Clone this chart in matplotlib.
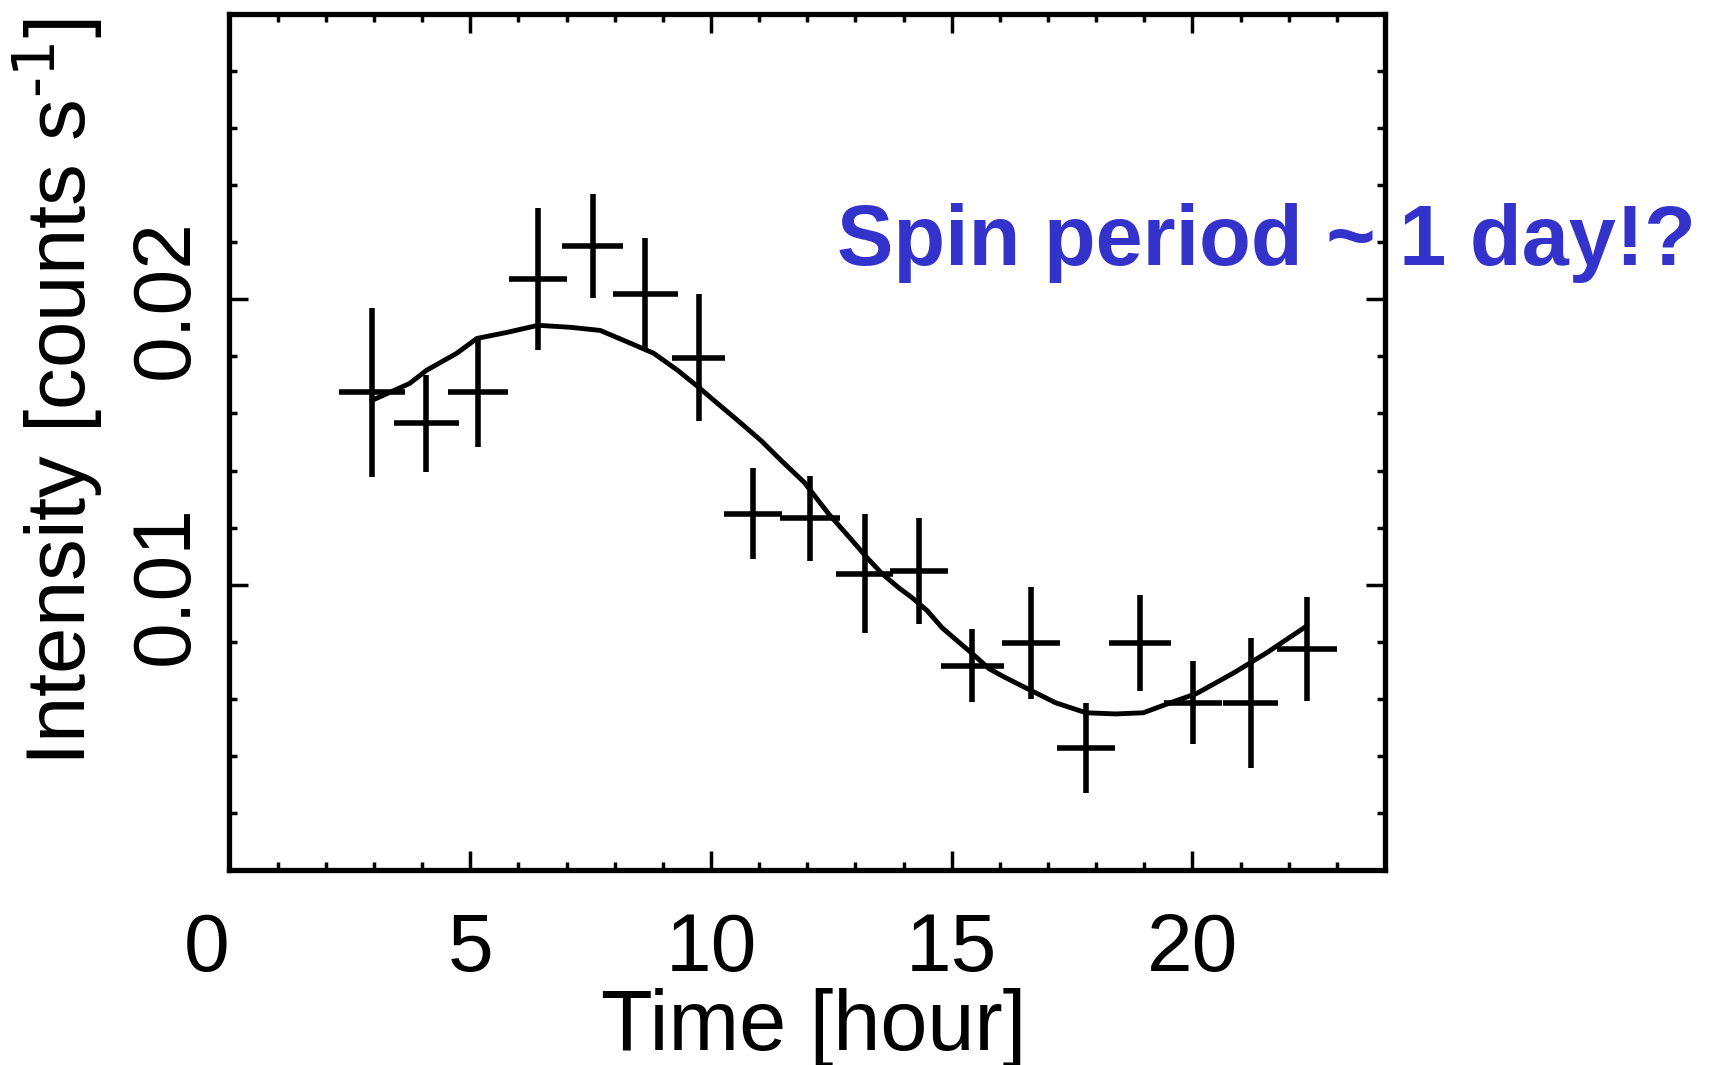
import matplotlib
matplotlib.use("Agg")
import matplotlib.pyplot as plt
from matplotlib.ticker import MultipleLocator

plt.rcParams['font.family'] = ['Liberation Sans', 'DejaVu Sans']
plt.rcParams['mathtext.default'] = 'regular'

# Measured light curve (hour, counts/s)
time_h = [2.96, 4.09, 5.16, 6.41, 7.54, 8.64, 9.75, 10.88, 12.05, 13.19,
          14.32, 15.43, 16.64, 17.79, 18.91, 20.02, 21.21, 22.38]
time_err = [0.68, 0.68, 0.62, 0.60, 0.63, 0.68, 0.55, 0.60, 0.62, 0.60,
            0.60, 0.66, 0.60, 0.60, 0.65, 0.60, 0.57, 0.63]
rate = [0.01674, 0.01565, 0.01674, 0.02070, 0.02186, 0.02018, 0.01796, 0.01249,
        0.01232, 0.01039, 0.01049, 0.00716, 0.00796, 0.00428, 0.00796, 0.00586,
        0.00586, 0.00775]
rate_err = [0.00295, 0.00170, 0.00193, 0.00249, 0.00182, 0.00196, 0.00223, 0.00160,
            0.00149, 0.00209, 0.00186, 0.00128, 0.00196, 0.00158, 0.00167, 0.00146,
            0.00228, 0.00181]

# Model curve
curve_t = [2.96, 3.74, 4.09, 4.72, 5.14, 5.76, 6.41, 7.08, 7.70, 8.33, 8.81, 9.31,
           9.75, 10.06, 10.56, 11.04, 11.46, 11.94, 12.44, 12.88, 13.24, 13.55,
           13.90, 14.18, 14.49, 14.80, 15.11, 15.43, 15.78, 16.12, 16.53, 17.16,
           17.79, 18.41, 18.98, 19.54, 20.08, 20.86, 21.54, 22.32]
curve_rate = [0.01646, 0.01705, 0.01751, 0.01811, 0.01863, 0.01884, 0.01909, 0.01902,
              0.01891, 0.01846, 0.01811, 0.01751, 0.01691, 0.01646, 0.01575, 0.01505,
              0.01435, 0.01358, 0.01249, 0.01165, 0.01095, 0.01039, 0.00989, 0.00954,
              0.00909, 0.00849, 0.00804, 0.00758, 0.00705, 0.00674, 0.00639, 0.00586,
              0.00551, 0.00547, 0.00551, 0.00586, 0.00618, 0.00691, 0.00761, 0.00849]

x_ticks = [0, 5, 10, 15, 20]
x_tick_labels = ['0', '5', '10', '15', '20']
y_ticks = [0.01, 0.02]
y_tick_labels = ['0.01', '0.02']

W, H = 1715, 1065
fig = plt.figure(figsize=(W / 100, H / 100), dpi=100)
ax = fig.add_axes([229.5 / W, 1 - 870 / H, (1385 - 229.5) / W, (870 - 14) / H])

ax.errorbar(time_h, rate, yerr=rate_err, xerr=time_err, fmt='none',
            ecolor='black', elinewidth=4, capsize=0)
ax.plot(curve_t, curve_rate, color='black', lw=3.5)

ax.set_xlim(0, 24)
ax.set_ylim(0, 0.03)
ax.set_xticks(x_ticks)
ax.set_xticklabels(x_tick_labels)
ax.xaxis.set_minor_locator(MultipleLocator(1))
ax.set_yticks(y_ticks)
ax.set_yticklabels(y_tick_labels, rotation=90, va='center')
ax.yaxis.set_minor_locator(MultipleLocator(0.002))

ax.tick_params(which='both', direction='in', top=True, right=True,
               width=2.5, color='black')
ax.tick_params(which='major', length=14)
ax.tick_params(which='minor', length=6)
ax.tick_params(axis='x', which='major', labelsize=59, pad=30)
ax.tick_params(axis='y', which='major', labelsize=59, pad=18)
ax.get_xticklabels()[0].set_horizontalalignment('right')

for sp in ax.spines.values():
    sp.set_linewidth(3.8)
    sp.set_color('black')

fig.text(58 / W, 1 - 392 / H, 'Intensity [counts s$^{\\text{-1}}$]', rotation=90,
         ha='center', va='center', fontsize=60)
fig.text(814 / W, 1 - 1050 / H, 'Time [hour]', ha='center', va='baseline',
         fontsize=61)
fig.text(837 / W, 1 - 265 / H, 'Spin period ~ 1 day!?', color='#3333CC',
         fontweight='bold', fontsize=61, ha='left', va='baseline', zorder=10)

fig.savefig('out.png', dpi=100)
